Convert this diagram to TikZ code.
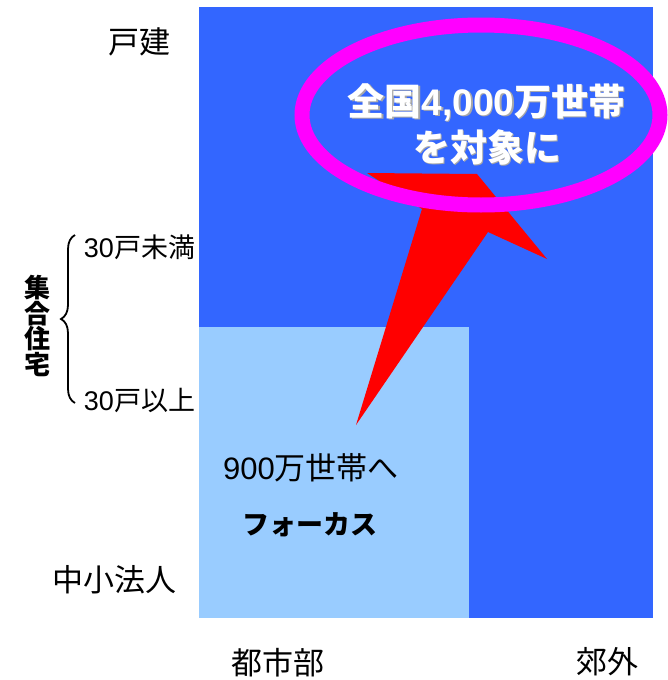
\documentclass[tikz,border=0pt]{standalone}
\usepackage{fontspec}
\setmainfont{Noto Sans CJK JP}
\newfontfamily\lat{Liberation Sans}
\usetikzlibrary{decorations.pathreplacing}
\definecolor{bblue}{HTML}{3366FF}
\definecolor{lblue}{HTML}{99CCFF}
\definecolor{mag}{HTML}{FF00FF}
\definecolor{shad}{HTML}{A8A8A8}
\tikzset{
  lbl/.style={inner sep=0pt, font=\fontsize{31}{34}\selectfont},
  sublbl/.style={inner sep=0pt, font=\fontsize{27}{29}\selectfont},
  bigw/.style={inner sep=0pt, text=white, font=\fontsize{37}{40}\selectfont\bfseries},
  bigs/.style={inner sep=0pt, text=shad, font=\fontsize{37}{40}\selectfont\bfseries},
}
\begin{document}
\begin{tikzpicture}[x=1pt,y=-1pt]
\useasboundingbox (0,0) rectangle (667,680);
% areas
\fill[bblue] (199,7) rectangle (653,618);
\fill[lblue] (199,327) rectangle (469,618);
% red wedge arrow
\fill[red] (367,173) -- (477,174) -- (547,259) -- (488,232) -- (356,425) -- (422,209) -- cycle;
% magenta ellipse
\draw[mag, line width=15] (481,115) ellipse [x radius=179, y radius=90];
% ellipse text with shadow
\node[bigs] (t1s) at (488,103.5) {全国{\lat\bfseries 4,000}万世帯};
\node[bigw] (t1) at (486.5,102) {全国{\lat\bfseries 4,000}万世帯};
\node[bigs] (t2s) at (488.5,148.5) {を対象に};
\node[bigw] (t2) at (487,147) {を対象に};
% axis labels
\node[lbl] (koken) at (139,41.5) {戸建};
\node[sublbl] (u30) at (139.5,247) {{\lat 30}戸未満};
\node[sublbl] (o30) at (139.5,400) {{\lat 30}戸以上};
\node[lbl] (chusho) at (114.5,580) {中小法人};
\node[lbl] (toshi) at (278,662.5) {都市部};
\node[lbl] (kogai) at (607,662) {郊外};
\node[inner sep=0pt, align=center, font=\fontsize{26}{25.5}\selectfont\bfseries] (shugo) at (37,326) {集\\合\\住\\宅};
% brace
\coordinate (bb) at (75,403);
\coordinate (bt) at (75,235);
\draw[line width=1.8, decorate, decoration={brace, amplitude=14}] (bb) -- (bt);
% focus text
\node[inner sep=0pt, font=\fontsize{31}{33}\selectfont] (n900) at (311,468) {{\lat 900}万世帯へ};
\node[inner sep=0pt, font=\fontsize{27}{30}\selectfont\bfseries] (focus) at (310,525) {フォーカス};
\end{tikzpicture}
\end{document}
